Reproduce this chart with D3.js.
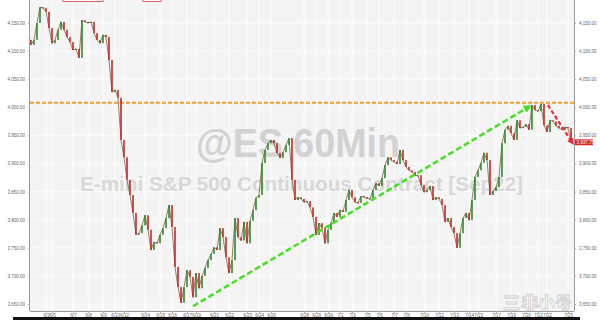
<!DOCTYPE html>
<html>
<head>
<meta charset="utf-8">
<script src="https://cdn.jsdelivr.net/npm/d3@7"></script>
<style>
  body { margin: 0; background: #fff; }
  svg { display: block; }
</style>
</head>
<body>
<div class="chart"></div>
<script>
// ES 60 min closes (open of each bar = previous close)
const closes = [
  4111, 4120, 4150, 4178, 4177, 4170, 4141, 4114, 4120, 4138,
  4152, 4138, 4125, 4116, 4102, 4104, 4088, 4155, 4152, 4150,
  4152, 4132, 4120, 4114, 4129, 4125, 4084, 4027, 4031, 4017,
  3942, 3911, 3871, 3844, 3812, 3773, 3776, 3790, 3808, 3782,
  3746, 3760, 3758, 3773, 3785, 3803, 3826, 3787, 3716, 3680,
  3652, 3680, 3710, 3698, 3662, 3705, 3678, 3700, 3714, 3728,
  3739, 3751, 3746, 3785, 3769, 3733, 3705, 3728, 3803, 3769,
  3763, 3796, 3758, 3798, 3817, 3839, 3844, 3901, 3924, 3936,
  3942, 3936, 3919, 3910, 3920, 3933, 3945, 3871, 3835, 3840,
  3837, 3831, 3833, 3822, 3805, 3773, 3794, 3785, 3758, 3782,
  3794, 3812, 3805, 3817, 3814, 3835, 3853, 3840, 3831, 3830,
  3842, 3840, 3838, 3837, 3853, 3865, 3860, 3874, 3897, 3911,
  3906, 3903, 3899, 3924, 3906, 3894, 3888, 3885, 3878, 3879,
  3862, 3849, 3853, 3860, 3835, 3840, 3837, 3826, 3796, 3803,
  3787, 3776, 3750, 3776, 3803, 3812, 3799, 3835, 3876, 3888,
  3901, 3919, 3906, 3844, 3851, 3858, 3876, 3936, 3960, 3967,
  3954, 3942, 3977, 3963, 3965, 3970, 3960, 4004, 3995, 3993,
  4006, 3968, 3956, 3977, 3975, 3967, 3963, 3960, 3965, 3963,
  3938
];
const firstOpen = 4120;

const yTicks = [3650, 3700, 3750, 3800, 3850, 3900, 3950, 4000, 4050, 4100, 4150];

const tickBars = [5, 7, 14, 19, 24, 28, 31, 38, 43, 47, 52, 55, 61, 66, 72, 76, 80, 91, 95,
  99, 103, 107, 112, 116, 121, 125, 131, 136, 141, 146, 149, 155, 160, 165, 169, 172, 179];
const tickLabels = ["6/3", "6/5", "6/7", "6/8", "6/9", "6/10", "6/12", "6/14", "6/15", "6/16",
  "6/17", "6/19", "6/21", "6/22", "6/23", "6/24", "6/26", "6/28", "6/29", "6/30", "7/1", "7/3",
  "7/5", "7/6", "7/7", "7/8", "7/10", "7/12", "7/13", "7/14", "7/15", "7/17", "7/19", "7/20",
  "7/21", "7/22", "7/25"];

const resistance = 4008;
const lastPrice = 3937.75;
const upTrend = [[54, 3646], [165.7, 4000]];
const downTrend = [[172.3, 4004], [180.3, 3938]];

const width = 600;
const height = 320;
const pLeft = 30, pRight = 574, pTop = 0, pBottom = 311;

const svg = d3.select(".chart")
  .append("svg")
  .attr("width", width)
  .attr("height", height)
  .style("font-family", "Liberation Sans, Arial, sans-serif");

const x = d3.scaleLinear().domain([0, closes.length - 1]).range([31, 571]);
const y = d3.scaleLinear().domain([3650, 4150]).range([304, 23]);

// plot background
svg.append("rect")
  .attr("x", pLeft).attr("y", pTop)
  .attr("width", pRight - pLeft).attr("height", pBottom - pTop)
  .attr("fill", "#f4f4f4");

// grid
svg.selectAll(".vgrid")
  .data(tickBars)
  .enter()
  .append("line")
  .attr("x1", d => x(d)).attr("x2", d => x(d))
  .attr("y1", pTop).attr("y2", pBottom)
  .attr("stroke", "#fdfdfd").attr("stroke-width", 1);
svg.selectAll(".hgrid")
  .data(yTicks)
  .enter()
  .append("line")
  .attr("x1", pLeft).attr("x2", pRight)
  .attr("y1", d => y(d)).attr("y2", d => y(d))
  .attr("stroke", "#fbfbfb").attr("stroke-width", 1);

// watermark
svg.append("text")
  .attr("x", 196).attr("y", 157)
  .attr("textLength", 204).attr("lengthAdjust", "spacingAndGlyphs")
  .attr("font-size", 40).attr("font-weight", "bold")
  .attr("fill", "#d2d2d2")
  .text("@ES 60Min");
svg.append("text")
  .attr("x", 80).attr("y", 191)
  .attr("textLength", 443).attr("lengthAdjust", "spacingAndGlyphs")
  .attr("font-size", 21).attr("font-weight", "bold")
  .attr("fill", "#d8d8d8")
  .text("E-mini S&P 500 Continuous Contract [Sep22]");

// resistance line
svg.append("line")
  .attr("x1", pLeft).attr("x2", pRight)
  .attr("y1", y(resistance)).attr("y2", y(resistance))
  .attr("stroke", "#f0a035").attr("stroke-width", 2)
  .attr("stroke-dasharray", "4,2");

// price path under the candles
const bars = closes.map((c, i) => ({ i, open: i === 0 ? firstOpen : closes[i - 1], close: c }));
svg.append("path")
  .attr("d", d3.line().x(d => x(d.i)).y(d => y(d.close))(bars))
  .attr("fill", "none")
  .attr("stroke", "#6b4a2a").attr("stroke-width", 0.7);

// candles
svg.selectAll(".candle")
  .data(bars)
  .enter()
  .append("rect")
  .attr("class", "candle")
  .attr("x", d => x(d.i) - 0.8)
  .attr("width", 1.6)
  .attr("y", d => y(Math.max(d.open, d.close)))
  .attr("height", d => Math.max(1.2, Math.abs(y(d.open) - y(d.close))))
  .attr("fill", d => d.close >= d.open ? "#2f8a2c" : "#c52a27");

// trend arrows
const defs = svg.append("defs");
[["gArrow", "#44e021"], ["rArrow", "#ee2a3a"]].forEach(([id, col]) => {
  defs.append("marker")
    .attr("id", id)
    .attr("viewBox", "0 0 10 10")
    .attr("refX", 5).attr("refY", 5)
    .attr("markerWidth", 3.2).attr("markerHeight", 3.2)
    .attr("orient", "auto")
    .append("path")
    .attr("d", "M0,0L10,5L0,10Z")
    .attr("fill", col);
});
const line = d3.line().x(d => x(d[0])).y(d => y(d[1]));
svg.append("path")
  .attr("d", line(upTrend))
  .attr("fill", "none")
  .attr("stroke", "#44e021").attr("stroke-width", 2.5)
  .attr("stroke-dasharray", "6,3")
  .attr("marker-end", "url(#gArrow)");
svg.append("path")
  .attr("d", line(downTrend))
  .attr("fill", "none")
  .attr("stroke", "#ee2a3a").attr("stroke-width", 2.2)
  .attr("stroke-dasharray", "4,2.5")
  .attr("marker-end", "url(#rArrow)");

// axes
const fmt = d3.format(",.2f");
const yLeft = svg.append("g")
  .attr("transform", `translate(${pLeft},0)`)
  .call(d3.axisLeft(y).tickValues(yTicks).tickSize(2).tickFormat(fmt));
const yRight = svg.append("g")
  .attr("transform", `translate(${pRight},0)`)
  .call(d3.axisRight(y).tickValues(yTicks).tickSize(2).tickFormat(fmt));
const xAxis = svg.append("g")
  .attr("transform", `translate(0,${pBottom})`)
  .call(d3.axisBottom(x).tickValues(tickBars).tickSize(2)
    .tickFormat((d, i) => tickLabels[i]));
[yLeft, yRight, xAxis].forEach(g => {
  g.select(".domain").attr("stroke", "#9a9a9a");
  g.selectAll(".tick line").attr("stroke", "#aaa");
  g.selectAll(".tick text").attr("font-size", 4.5).attr("fill", "#666");
});
yLeft.select(".domain").attr("d", `M-0.5,${pTop}V${pBottom}`);
yRight.select(".domain").attr("d", `M0.5,${pTop}V${pBottom}`);
xAxis.select(".domain").attr("d", `M${pLeft},0.5H${pRight}`);
xAxis.selectAll(".tick text").attr("y", 2).attr("dy", "0.8em");

// last price tag
svg.append("rect")
  .attr("x", pRight + 1).attr("y", y(lastPrice) - 3)
  .attr("width", 18).attr("height", 6)
  .attr("fill", "#d8262e");
svg.append("text")
  .attr("x", pRight + 2.5).attr("y", y(lastPrice) + 1.6)
  .attr("font-size", 4.5).attr("fill", "#fff")
  .text(fmt(lastPrice));

// cut off legend boxes at the top
svg.append("rect").attr("x", 63).attr("y", -4).attr("width", 40).attr("height", 5.5)
  .attr("fill", "#fff").attr("stroke", "#d23a3a").attr("stroke-width", 0.8);
svg.append("rect").attr("x", 143).attr("y", -4).attr("width", 18).attr("height", 5.5)
  .attr("fill", "#fff").attr("stroke", "#d23a3a").attr("stroke-width", 0.8);

// bottom bar
svg.append("rect")
  .attr("x", 13).attr("y", 317).attr("width", 567).attr("height", 3)
  .attr("fill", "#111");

// logo watermark
const logo = svg.append("g").attr("opacity", 0.85)
  .attr("font-family", "Noto Sans CJK SC").attr("font-weight", "bold")
  .attr("fill", "#fff").attr("stroke", "#c4c4c4").attr("stroke-width", 0.8);
logo.append("text")
  .attr("x", 503).attr("y", 309)
  .attr("font-size", 17)
  .text("三");
logo.append("text")
  .attr("x", 521).attr("y", 309)
  .attr("font-size", 17)
  .text("非小号");
</script>
</body>
</html>
